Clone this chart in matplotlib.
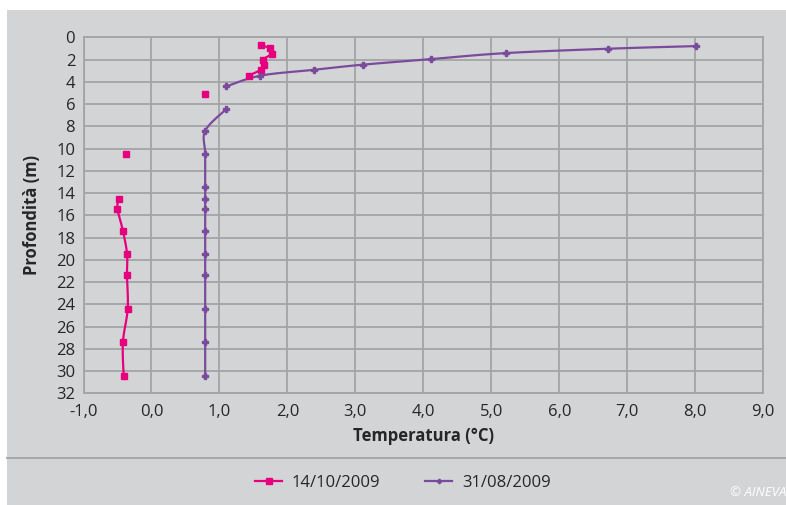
import numpy as np
import matplotlib
matplotlib.use("Agg")
import matplotlib.pyplot as plt
from matplotlib.patches import Rectangle
from matplotlib.lines import Line2D

plt.rcParams['font.family'] = ['Open Sans', 'DejaVu Sans']

# 14/10/2009 profile (NaN = missing reading, breaks the line)
depth_oct = [0.72, 0.99, 1.47, 2.0, 2.46, 2.9, 3.45, 4.4, 5.06, 6.45, 8.4,
             10.46, 13.45, 14.5, 15.4, 17.4, 19.45, 21.4, 24.4, 27.4, 30.4]
temp_oct = [1.61, 1.74, 1.77, 1.64, 1.65, 1.61, 1.43, np.nan, 0.78, np.nan, np.nan,
            -0.38, np.nan, -0.48, -0.5, -0.42, -0.36, -0.36, -0.35, -0.42, -0.41]

# 31/08/2009 profile
depth_aug = [0.79, 1.03, 1.42, 1.96, 2.46, 2.92, 3.45, 4.42, 5.0, 6.45, 8.4,
             10.46, 13.45, 14.5, 15.46, 17.4, 19.45, 21.4, 24.45, 27.4, 30.4]
temp_aug = [8.01, 6.71, 5.21, 4.11, 3.11, 2.39, 1.60, 1.10, np.nan, 1.10, 0.79,
            0.79, 0.79, 0.79, 0.79, 0.79, 0.79, 0.79, 0.79, 0.79, 0.79]

x_ticks = np.arange(-1, 10, 1)
y_ticks = np.arange(0, 34, 2)

PINK = '#e6007e'
PURPLE = '#7a4b9c'
GRID = '#a3a4a6'
BG = '#d3d4d6'
TXT = '#262626'


def smooth_segments(xs, ys, sx, sy, n=12):
    # catmull-rom through consecutive non-missing points (like a smoothed line)
    xs = np.asarray(xs, float)
    ys = np.asarray(ys, float)
    ok = ~np.isnan(xs)
    runs, cur = [], []
    for i in range(len(xs)):
        if ok[i]:
            cur.append(i)
        else:
            if cur:
                runs.append(cur)
            cur = []
    if cur:
        runs.append(cur)
    out = []
    for r in runs:
        px = xs[r] * sx
        py = ys[r] * sy
        if len(r) < 2:
            out.append((xs[r], ys[r]))
            continue
        P = np.column_stack([px, py])
        P = np.vstack([P[0], P, P[-1]])
        cx, cy = [], []
        for k in range(1, len(P) - 2):
            p0, p1, p2, p3 = P[k - 1], P[k], P[k + 1], P[k + 2]
            t = np.linspace(0, 1, n)[:, None]
            c = 0.5 * ((2 * p1) + (-p0 + p2) * t + (2 * p0 - 5 * p1 + 4 * p2 - p3) * t ** 2
                       + (-p0 + 3 * p1 - 3 * p2 + p3) * t ** 3)
            cx.extend(c[:, 0])
            cy.extend(c[:, 1])
        out.append((np.array(cx) / sx, np.array(cy) / sy))
    return out


fig = plt.figure(figsize=(7.86, 5.05), dpi=100, facecolor='white')
fig.patches.append(Rectangle((7 / 786, 0), 1, 1 - 10 / 505, transform=fig.transFigure,
                             facecolor=BG, edgecolor='none', zorder=-10))
fig.lines.append(Line2D([7 / 786, 1], [1 - 458 / 505] * 2, transform=fig.transFigure,
                        color=GRID, lw=1.3))

ax = fig.add_axes([83.5 / 786, 1 - 393.3 / 505, (763.3 - 83.5) / 786, (393.3 - 37.3) / 505])
ax.set_zorder(1)
ax.set_facecolor(BG)
ax.set_xlim(-1, 9)
ax.set_ylim(32, 0)
ax.set_xticks(x_ticks)
ax.set_yticks(y_ticks)
ax.set_xticklabels([f"{v:.1f}".replace('.', ',') for v in x_ticks])
ax.set_yticklabels([str(v) for v in y_ticks])
ax.grid(True, color=GRID, lw=1.3)
ax.set_axisbelow(True)
for s in ax.spines.values():
    s.set_color(GRID)
    s.set_linewidth(1.3)
ax.tick_params(length=0, labelsize=12, colors=TXT, pad=6)
ax.tick_params(axis='x', pad=8)

sx, sy = 68.0, 11.13
for cx, cy in smooth_segments(temp_oct, depth_oct, sx, sy):
    ax.plot(cx, cy, color=PINK, lw=1.6, zorder=3)
ax.plot(temp_oct, depth_oct, ls='none', marker='s', ms=4, color=PINK, zorder=4)
for cx, cy in smooth_segments(temp_aug, depth_aug, sx, sy):
    ax.plot(cx, cy, color=PURPLE, lw=1.6, zorder=3)
ax.plot(temp_aug, depth_aug, ls='none', marker='P', ms=4, color=PURPLE, zorder=4)

ax.set_xlabel('Temperatura (°C)', fontsize=12, fontweight='bold', color=TXT, labelpad=5)
ax.set_ylabel('Profondità (m)', fontsize=12, fontweight='bold', color=TXT, labelpad=11)

handles = [Line2D([], [], color=PINK, lw=1.6, marker='s', ms=4),
           Line2D([], [], color=PURPLE, lw=1.6, marker='P', ms=3)]
fig.legend(handles, ['14/10/2009', '31/08/2009'], loc='center',
           bbox_to_anchor=(403 / 786, 1 - 483 / 505), ncol=2, frameon=False,
           fontsize=12, handlelength=1.6, handletextpad=0.6, columnspacing=2.7,
           labelcolor=TXT)

fig.text(1.0, 1 - 493 / 505, '© AINEVA', ha='right', va='center', color='white',
         fontsize=9.5, style='italic')

fig.savefig('out.png', dpi=100, facecolor=fig.get_facecolor())
